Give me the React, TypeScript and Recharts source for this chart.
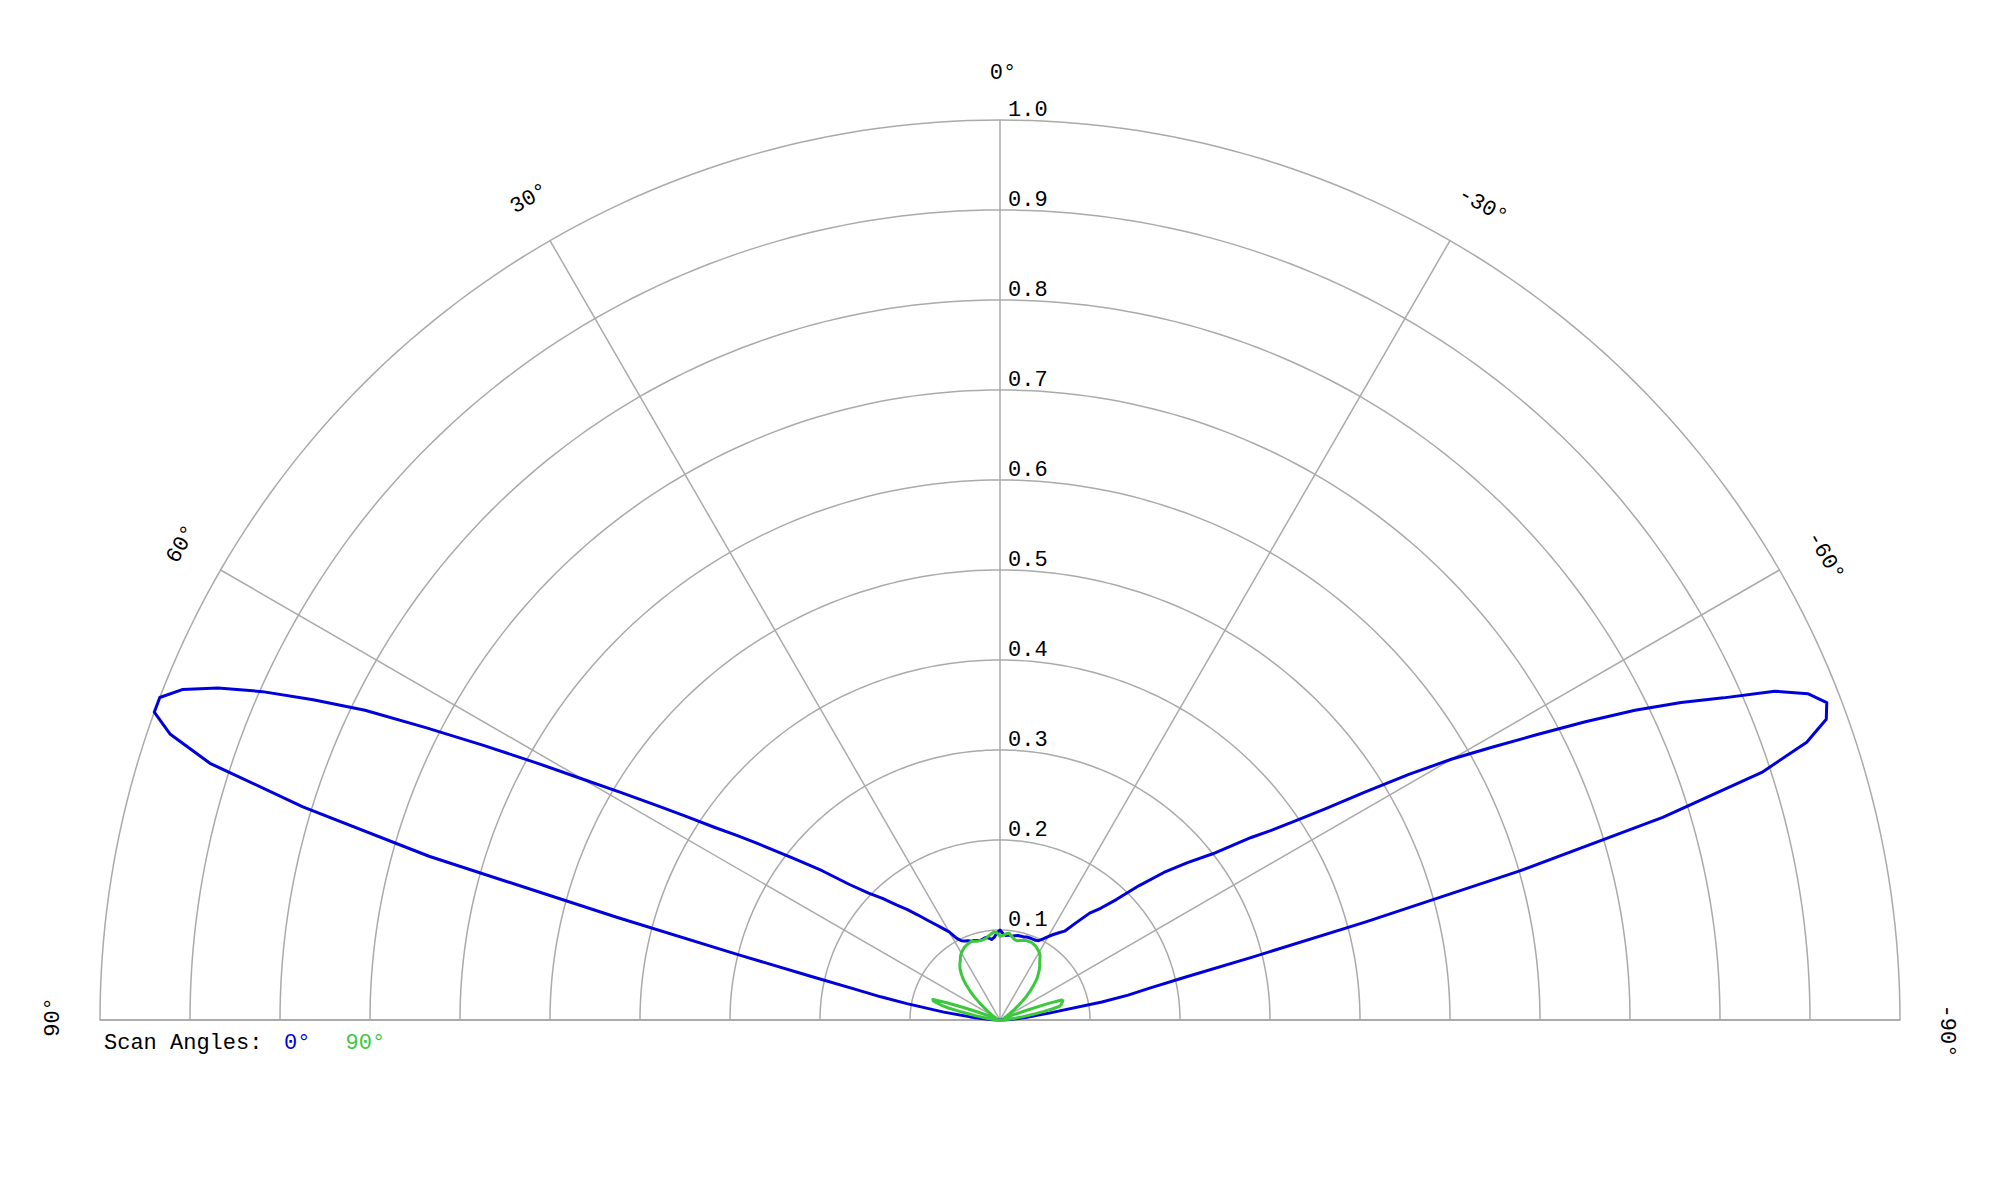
import React from 'react';
import {
  RadarChart,
  Radar,
  PolarGrid,
  PolarAngleAxis,
  PolarRadiusAxis,
  Legend,
} from 'recharts';

// Angle of each sample in degrees (0 = broadside / top, positive to the left)
const ANGLES = [
  90, 88, 86, 84, 82, 80, 79, 78, 77, 76, 75, 74, 73, 72, 71, 70, 69, 68, 67, 66, 65, 64, 63, 62, 61, 60,
  59, 58, 57, 56, 55, 54, 52, 50, 48, 46, 44, 42, 40, 38, 36, 34, 32, 30, 28, 26, 24, 22, 20, 18, 16, 14,
  12, 10, 8, 6, 4, 2, 0,
  -2, -4, -6, -8, -10, -12, -14, -16, -18, -20, -22, -24, -26, -28, -30, -32, -34, -36, -38, -40, -42, -44,
  -46, -48, -50, -52, -54, -55, -56, -57, -58, -59, -60, -61, -62, -63, -64, -65, -66, -67, -68, -69, -70,
  -71, -72, -73, -74, -75, -76, -77, -78, -79, -80, -82, -84, -86, -88, -90,
];

// Normalised pattern, scan angle 0°
const SCAN_0 = [
  0, 0.008, 0.018, 0.033, 0.063, 0.105, 0.135, 0.165, 0.215, 0.3, 0.44, 0.66, 0.81, 0.923, 0.975, 1.0, 1.0,
  0.98, 0.944, 0.897, 0.842, 0.785, 0.715, 0.65, 0.59, 0.535,
  0.49, 0.45, 0.415, 0.383, 0.358, 0.335, 0.292, 0.258, 0.225, 0.203, 0.188, 0.172, 0.16, 0.148, 0.137,
  0.128, 0.12, 0.113, 0.103, 0.098, 0.096, 0.095, 0.093, 0.093, 0.092, 0.091,
  0.092, 0.093, 0.092, 0.09, 0.092, 0.097, 0.1,
  0.096, 0.094, 0.095, 0.094, 0.095, 0.096, 0.096, 0.096, 0.097, 0.097, 0.097, 0.097, 0.098, 0.102, 0.107,
  0.112, 0.117, 0.122, 0.137, 0.155, 0.167, 0.186,
  0.215, 0.245, 0.272, 0.3, 0.345, 0.367, 0.395, 0.43, 0.478, 0.53, 0.58, 0.625, 0.675, 0.73, 0.785, 0.835,
  0.88, 0.935, 0.968, 0.984, 0.977,
  0.948, 0.89, 0.77, 0.6, 0.42, 0.29, 0.21, 0.17, 0.145, 0.115, 0.055, 0.03, 0.018, 0.008, 0,
];

// Normalised pattern, scan angle 90°
const SCAN_90 = [
  0, 0.002, 0.005, 0.009, 0.016, 0.028, 0.036, 0.046, 0.058, 0.066, 0.072, 0.077, 0.078, 0.062, 0.04, 0.022,
  0.012, 0.007, 0.005, 0.005, 0.005, 0.006, 0.006, 0.007, 0.008, 0.009,
  0.01, 0.011, 0.012, 0.013, 0.015, 0.017, 0.022, 0.03, 0.038, 0.046, 0.054, 0.061, 0.067, 0.072, 0.076,
  0.079, 0.083, 0.086, 0.088, 0.09, 0.091, 0.092, 0.093, 0.092, 0.091, 0.091,
  0.091, 0.092, 0.094, 0.096, 0.098, 0.097, 0.093,
  0.094, 0.096, 0.097, 0.094, 0.091, 0.09, 0.091, 0.092, 0.093, 0.093, 0.093, 0.092, 0.091, 0.089, 0.087,
  0.084, 0.079, 0.075, 0.071, 0.066, 0.061, 0.054,
  0.047, 0.04, 0.032, 0.025, 0.019, 0.016, 0.014, 0.012, 0.01, 0.009, 0.008, 0.007, 0.006, 0.006, 0.006,
  0.006, 0.006, 0.007, 0.01, 0.018, 0.03,
  0.055, 0.072, 0.073, 0.072, 0.071, 0.07, 0.068, 0.06, 0.05, 0.04, 0.025, 0.015, 0.008, 0.003, 0,
];

const ANGLE_TICKS = [90, 60, 30, 0, -30, -60, -90];
const RADIUS_TICKS = [0.1, 0.2, 0.3, 0.4, 0.5, 0.6, 0.7, 0.8, 0.9, 1.0];
const LEGEND_TITLE = 'Scan Angles:';

const SERIES = [
  { key: 'scan0', name: '0°', color: '#0000dd', values: SCAN_0 },
  { key: 'scan90', name: '90°', color: '#3cc83c', values: SCAN_90 },
];

const data = ANGLES.map((a, i) => {
  const row: Record<string, number> = { angle: a };
  SERIES.forEach((s) => {
    row[s.key] = s.values[i];
  });
  return row;
});

// fine polar angles (degrees) so the concentric grid draws as half-circle arcs
const ARC_ANGLES: number[] = [];
for (let d = 0; d <= 180; d += 1) ARC_ANGLES.push(d);

const FONT = '"Liberation Mono", "Courier New", monospace';
const GRID = '#aaaaaa';

const AngleTick = (props: any) => {
  const { x, y, payload } = props;
  const v = payload.value;
  const rot = 90 - payload.coordinate;
  const shift = v < 0 ? 11 : 3;
  return (
    <g transform={`translate(${x},${y}) rotate(${rot})`}>
      <text x={shift} y={0} dy="0.33em" textAnchor="middle" fontFamily={FONT} fontSize={22} fill="#000">
        {`${v}°`}
      </text>
    </g>
  );
};

const RadiusTick = (props: any) => {
  const { x, y, payload } = props;
  if (!payload || !payload.value) return <g />;
  return (
    <text x={x + 8} y={y - 4} textAnchor="start" fontFamily={FONT} fontSize={22} fill="#000">
      {Number(payload.value).toFixed(1)}
    </text>
  );
};

const LegendContent = (props: any) => {
  const payload = props.payload || [];
  return (
    <div style={{ fontFamily: FONT, fontSize: 22, lineHeight: '22px', whiteSpace: 'pre' }}>
      <span style={{ display: 'inline-block', width: 180, color: '#000' }}>{LEGEND_TITLE}</span>
      {payload.map((p: any) => (
        <span key={p.value} style={{ display: 'inline-block', width: 61.5, color: p.color }}>
          {p.value}
        </span>
      ))}
    </div>
  );
};

export default function App() {
  return (
    <div style={{ position: 'absolute', left: 0, top: 0, width: 2000, height: 1200, background: '#fff' }}>
      <RadarChart
        width={2000}
        height={1200}
        data={data}
        cx={1000}
        cy={1020}
        innerRadius={0}
        outerRadius={900}
        startAngle={0}
        endAngle={180}
        margin={{ top: 0, right: 0, bottom: 0, left: 0 }}
      >
        <PolarGrid gridType="polygon" radialLines={false} polarAngles={ARC_ANGLES} stroke={GRID} strokeWidth={1.5} />
        <PolarGrid gridType="polygon" radialLines polarRadius={[]} stroke={GRID} strokeWidth={1.5} />
        <PolarAngleAxis
          dataKey="angle"
          type="number"
          domain={[-90, 90]}
          ticks={ANGLE_TICKS}
          tickCount={7}
          tick={AngleTick}
          tickLine={false}
          axisLine={false}
          tickSize={48}
        />
        <PolarRadiusAxis
          angle={90}
          type="number"
          domain={[0, 1]}
          ticks={RADIUS_TICKS}
          tickCount={11}
          tick={RadiusTick}
          axisLine={false}
          tickLine={false}
        />
        {SERIES.map((s) => (
          <Radar
            key={s.key}
            dataKey={s.key}
            name={s.name}
            stroke={s.color}
            strokeWidth={3}
            strokeLinejoin="round"
            fill="none"
            fillOpacity={0}
            dot={false}
            activeDot={false}
            isAnimationActive={false}
          />
        ))}
        <Legend
          layout="horizontal"
          verticalAlign="middle"
          align="center"
          content={LegendContent}
          wrapperStyle={{ left: 104, top: 1033, right: 'auto', bottom: 'auto', width: 400, height: 24 }}
        />
      </RadarChart>
    </div>
  );
}
